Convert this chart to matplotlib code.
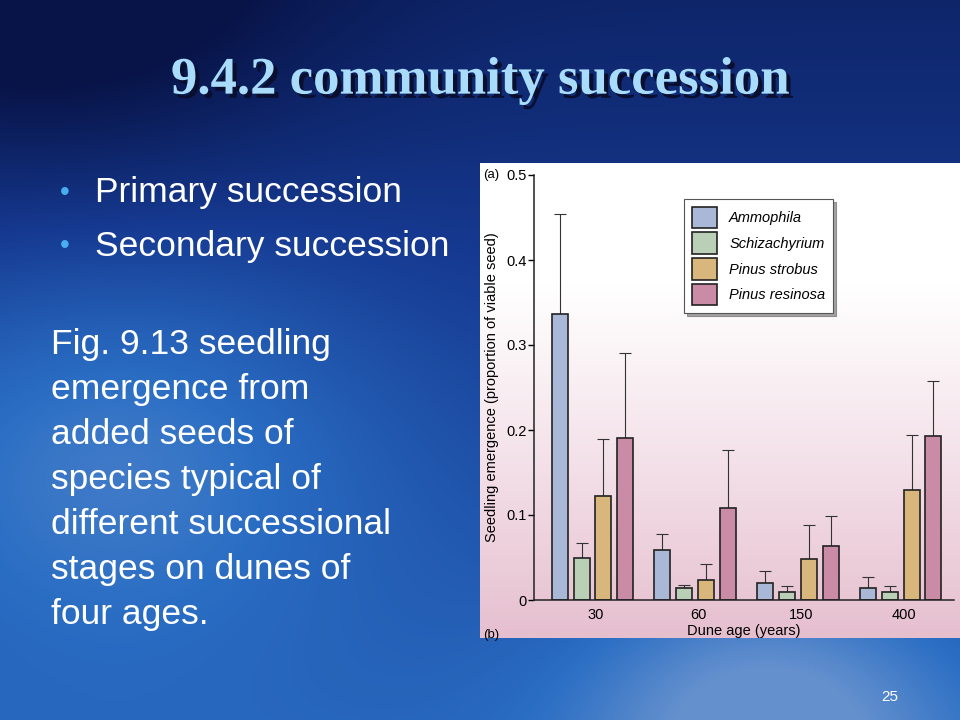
import numpy as np
import matplotlib.pyplot as plt
import matplotlib.patheffects as pe
from matplotlib.patches import Patch
from matplotlib.colors import LinearSegmentedColormap

# data
ages = ['30', '60', '150', '400']
species = ['Ammophila', 'Schizachyrium', 'Pinus strobus', 'Pinus resinosa']
means = {
    'Ammophila':      [0.336, 0.059, 0.020, 0.014],
    'Schizachyrium':  [0.050, 0.014, 0.010, 0.009],
    'Pinus strobus':  [0.122, 0.024, 0.048, 0.129],
    'Pinus resinosa': [0.191, 0.108, 0.064, 0.193],
}
upper = {
    'Ammophila':      [0.454, 0.078, 0.034, 0.027],
    'Schizachyrium':  [0.067, 0.018, 0.016, 0.016],
    'Pinus strobus':  [0.189, 0.042, 0.088, 0.194],
    'Pinus resinosa': [0.291, 0.176, 0.099, 0.258],
}
colors = ['#a8b8d6', '#b9cfb6', '#d9b67c', '#c98ba6']

bullets = ['Primary succession', 'Secondary succession']
caption = ['Fig. 9.13 seedling', 'emergence from', 'added seeds of',
           'species typical of', 'different successional',
           'stages on dunes of', 'four ages.']

fig = plt.figure(figsize=(9.6, 7.2), dpi=100)

# slide background (blue gradient)
bg = fig.add_axes([0, 0, 1, 1])
yy, xx = np.mgrid[0:1:360j, 0:1:480j]
v = 0.18 + 0.5 * yy + 0.35 * np.exp(-((xx - 0.12) ** 2 + (yy - 0.6) ** 2) / 0.08)
v += 0.4 * np.exp(-((xx - 0.8) ** 2 + (yy - 1.0) ** 2) / 0.04)
v -= 0.3 * np.exp(-((xx - 0.05) ** 2 + (yy - 0.0) ** 2) / 0.08)
v = np.clip(v, 0, 1)
bg_cmap = LinearSegmentedColormap.from_list('slide', ['#081448', '#163a92', '#2a6ec4', '#8aa6d4'])
bg.imshow(v, cmap=bg_cmap, aspect='auto', extent=[0, 1, 1, 0], vmin=0, vmax=1.15)
bg.set_xlim(0, 1)
bg.set_ylim(1, 0)
bg.axis('off')

# title with shadow
bg.text(0.5, 0.112, '9.4.2 community succession', ha='center', va='center',
        fontsize=38, fontweight='bold', family='Liberation Serif', color='#a9dcfa',
        path_effects=[pe.withSimplePatchShadow(offset=(3, -3), shadow_rgbFace='#0a0f30',
                                               alpha=1)])

for i, b in enumerate(bullets):
    y = 0.268 + i * 0.074
    bg.text(0.062, y, '•', ha='left', va='center', fontsize=20, color='#49aef0',
            family='Liberation Sans')
    bg.text(0.099, y, b, ha='left', va='center', fontsize=25.5, color='white',
            family='Liberation Sans')

for i, line in enumerate(caption):
    bg.text(0.053, 0.479 + i * 0.0625, line, ha='left', va='center', fontsize=25.5,
            color='white', family='Liberation Sans')

bg.text(0.918, 0.968, '25', ha='left', va='center', fontsize=11, color='white',
        family='Liberation Sans')

# white-to-pink panel behind the chart
panel = fig.add_axes([0.5, (720 - 638) / 720, 0.5, 475 / 720])
g = np.linspace(0, 1, 200)[:, None]
g = np.clip((g - 0.25) / 0.75, 0, 1) ** 1.1
pink = LinearSegmentedColormap.from_list('pink', ['#ffffff', '#e6bfcf'])
panel.imshow(g, cmap=pink, aspect='auto', extent=[0, 1, 0, 1], vmin=0, vmax=1)
panel.axis('off')

# chart
ax = fig.add_axes([534 / 960, (720 - 600) / 720, 420 / 960, 425 / 720])
ax.set_facecolor('none')
x = np.arange(len(ages))
width = 0.156
step = 0.213
for k, (sp, c) in enumerate(zip(species, colors)):
    pos = x + (k - 1.5) * step
    m = np.array(means[sp])
    up = np.array(upper[sp]) - m
    ax.errorbar(pos, m, yerr=[np.zeros_like(m), up], fmt='none', ecolor='#333333',
                elinewidth=0.8, capsize=4, capthick=0.8, zorder=1)
    ax.bar(pos, m, width=width, color=c, edgecolor='#222222', linewidth=1.2,
           label=sp, zorder=2)

ax.set_xlim(-0.57, 3.52)
ax.set_ylim(0, 0.5)
ax.set_yticks([0, 0.1, 0.2, 0.3, 0.4, 0.5])
ax.set_yticklabels(['0', '0.1', '0.2', '0.3', '0.4', '0.5'])
ax.set_xticks(x + 0.03)
ax.set_xticklabels(ages)
ax.tick_params(axis='x', length=0, pad=6, labelsize=10.5)
ax.tick_params(axis='y', length=4, width=1, labelsize=10.5, pad=1.5)
for s in ['top', 'right']:
    ax.spines[s].set_visible(False)
for s in ['left', 'bottom']:
    ax.spines[s].set_linewidth(1.1)
    ax.spines[s].set_color('#222222')
ax.set_ylabel('Seedling emergence (proportion of viable seed)', fontsize=10.5, labelpad=5)
ax.set_xlabel('Dune age (years)', fontsize=10.5, labelpad=1)
for t in ax.get_xticklabels() + ax.get_yticklabels():
    t.set_family('Liberation Sans')
ax.yaxis.label.set_family('Liberation Sans')
ax.xaxis.label.set_family('Liberation Sans')

handles = [Patch(facecolor=c, edgecolor='#222222', linewidth=1.2) for c in colors]
leg = ax.legend(handles, species, loc='upper left', bbox_to_anchor=(0.357, 0.944),
                borderaxespad=0, fancybox=False, shadow=True, edgecolor='#555555',
                prop={'family': 'Liberation Sans', 'style': 'italic', 'size': 10.5},
                handlelength=1.75, handleheight=1.9, labelspacing=0.28,
                borderpad=0.55, handletextpad=0.8, framealpha=1)
leg.get_frame().set_linewidth(0.8)

fig.text(483 / 960, 1 - 175 / 720, '(a)', fontsize=9.5, family='Liberation Sans',
         ha='left', va='center')
fig.text(483 / 960, 1 - 635 / 720, '(b)', fontsize=9.5, family='Liberation Sans',
         ha='left', va='center')

fig.savefig('out.png', dpi=100)
